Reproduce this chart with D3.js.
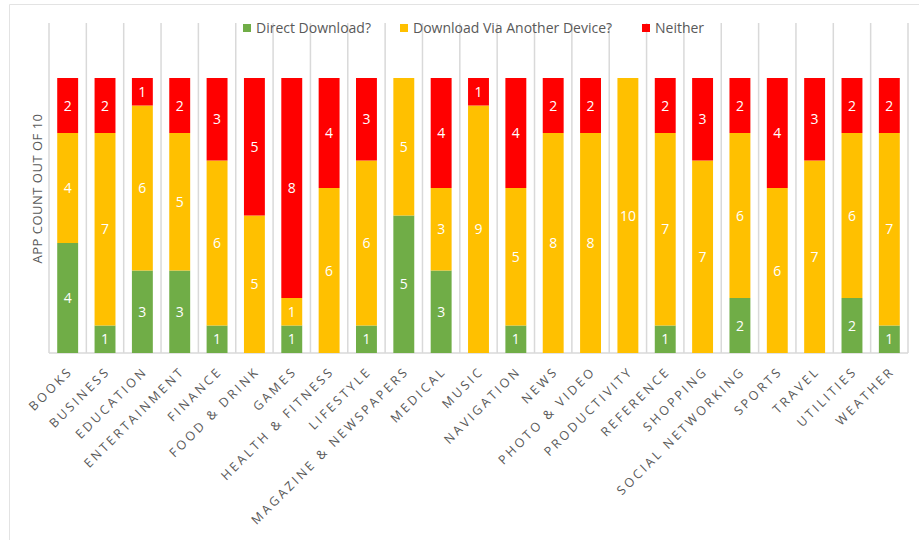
<!DOCTYPE html>
<html>
<head>
<meta charset="utf-8">
<script src="https://cdn.jsdelivr.net/npm/d3@7"></script>
<style>
  body { margin: 0; background: #fff; }
  svg { display: block; font-family: "Open Sans", "Liberation Sans", sans-serif; }
</style>
</head>
<body>
<div id="chart"></div>
<script>
// categories and series (apps out of 10)
var categories = ["BOOKS", "BUSINESS", "EDUCATION", "ENTERTAINMENT", "FINANCE", "FOOD & DRINK", "GAMES",
    "HEALTH & FITNESS", "LIFESTYLE", "MAGAZINE & NEWSPAPERS", "MEDICAL", "MUSIC", "NAVIGATION", "NEWS",
    "PHOTO & VIDEO", "PRODUCTIVITY", "REFERENCE", "SHOPPING", "SOCIAL NETWORKING", "SPORTS", "TRAVEL",
    "UTILITIES", "WEATHER"];
var direct  = [4, 1, 3, 3, 1, 0, 1, 0, 1, 5, 3, 0, 1, 0, 0, 0, 1, 0, 2, 0, 0, 2, 1];
var another = [4, 7, 6, 5, 6, 5, 1, 6, 6, 5, 3, 9, 5, 8, 8, 10, 7, 7, 6, 6, 7, 6, 7];
var neither = [2, 2, 1, 2, 3, 5, 8, 4, 3, 0, 4, 1, 4, 2, 2, 0, 2, 3, 2, 4, 3, 2, 2];
var seriesNames = ["Direct Download?", "Download Via Another Device?", "Neither"];
var yDomain = [0, 10];

var width = 919, height = 540;
var margin = { top: 78, right: 11, bottom: 187, left: 49 };
var colors = ["#70AD47", "#FFC000", "#FF0000"];
var keys = ["direct", "another", "neither"];

var rows = categories.map(function(c, i) {
    return { cat: c, direct: direct[i], another: another[i], neither: neither[i] };
});

var svg = d3.select("#chart").append("svg")
    .attr("width", width)
    .attr("height", height);

// outer frame (top and left edges visible)
svg.append("line").attr("x1", 9.5).attr("x2", width).attr("y1", 4.5).attr("y2", 4.5)
    .attr("stroke", "#e3e3e3").attr("stroke-width", 1);
svg.append("line").attr("x1", 9.5).attr("x2", 9.5).attr("y1", 4.5).attr("y2", height)
    .attr("stroke", "#e3e3e3").attr("stroke-width", 1);

var x = d3.scaleBand()
    .domain(categories)
    .range([margin.left, width - margin.right])
    .paddingInner(0.44)
    .paddingOuter(0.22);

var y = d3.scaleLinear()
    .domain(yDomain)
    .range([height - margin.bottom, margin.top]);

var step = x.step();
var x0 = margin.left;

// vertical gridlines between categories
svg.append("g")
    .selectAll("line")
    .data(d3.range(categories.length + 1))
    .enter().append("line")
    .attr("x1", function(i) { return x0 + i * step; })
    .attr("x2", function(i) { return x0 + i * step; })
    .attr("y1", 23)
    .attr("y2", y(0))
    .attr("stroke", "#d9d9d9")
    .attr("stroke-width", 1.5);

// baseline
svg.append("line")
    .attr("x1", x0).attr("x2", x0 + categories.length * step)
    .attr("y1", y(0)).attr("y2", y(0))
    .attr("stroke", "#d9d9d9").attr("stroke-width", 1.5);

var stack = d3.stack().keys(keys);
var series = stack(rows);

var layer = svg.append("g")
    .selectAll("g")
    .data(series)
    .enter().append("g")
    .attr("fill", function(d, i) { return colors[i]; });

layer.selectAll("rect")
    .data(function(d) { return d; })
    .enter().append("rect")
    .attr("x", function(d) { return x(d.data.cat); })
    .attr("width", x.bandwidth())
    .attr("y", function(d) { return y(d[1]); })
    .attr("height", function(d) { return y(d[0]) - y(d[1]); });

// data labels
layer.selectAll("text")
    .data(function(d) { return d.filter(function(s) { return s[1] - s[0] > 0; }); })
    .enter().append("text")
    .attr("x", function(d) { return x(d.data.cat) + x.bandwidth() / 2; })
    .attr("y", function(d) { return (y(d[0]) + y(d[1])) / 2; })
    .attr("dy", "0.36em")
    .attr("text-anchor", "middle")
    .attr("fill", "#fff")
    .style("font-size", "14px")
    .text(function(d) { return d[1] - d[0]; });

// category labels
svg.append("g")
    .selectAll("text")
    .data(categories)
    .enter().append("text")
    .attr("transform", function(d) {
        return "translate(" + (x(d) + x.bandwidth() / 2 + 6) + "," + (y(0) + 19) + ") rotate(-45)";
    })
    .attr("text-anchor", "end")
    .attr("fill", "#595959")
    .style("font-size", "12.5px")
    .style("letter-spacing", "2.8px")
    .text(function(d) { return d; });

// y axis title
svg.append("text")
    .attr("transform", "translate(42," + ((y(0) + y(10)) / 2 - 27) + ") rotate(-90)")
    .attr("text-anchor", "middle")
    .attr("fill", "#595959")
    .style("font-size", "13px")
    .style("letter-spacing", "0.5px")
    .text("APP COUNT OUT OF 10");

// legend
var legendX = [243, 400, 642];
var legend = svg.append("g")
    .selectAll("g")
    .data(seriesNames)
    .enter().append("g")
    .attr("transform", function(d, i) { return "translate(" + legendX[i] + ",28)"; });

legend.append("rect")
    .attr("x", 0).attr("y", -4)
    .attr("width", 8).attr("height", 8)
    .attr("fill", function(d, i) { return colors[i]; });

legend.append("text")
    .attr("x", 13)
    .attr("dy", "0.35em")
    .attr("fill", "#595959")
    .style("font-size", "14px")
    .text(function(d) { return d; });
</script>
</body>
</html>
